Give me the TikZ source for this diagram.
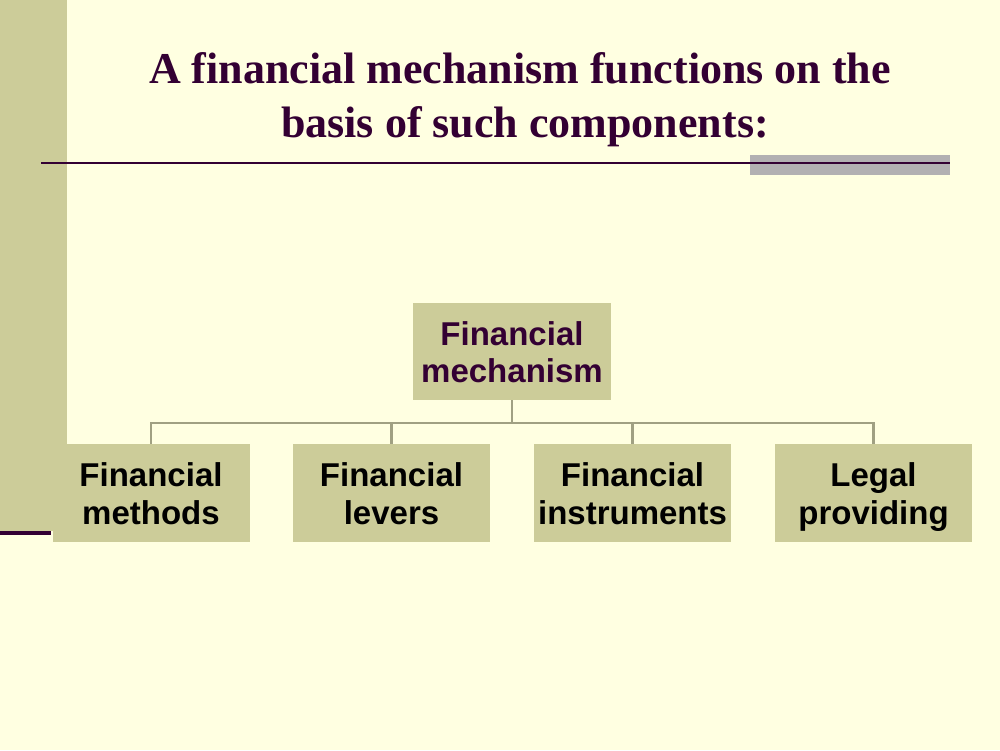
\documentclass[tikz,border=0pt]{standalone}
\usepackage{fontspec}
\newfontfamily\titlefont{Liberation Serif}
\newfontfamily\boxfont{Liberation Sans}
\definecolor{bgc}{HTML}{FFFFE1}
\definecolor{khaki}{HTML}{CCCC99}
\definecolor{plum}{HTML}{330033}
\definecolor{barg}{HTML}{B2B0B2}
\definecolor{conn}{HTML}{A0A082}
\newcommand{\twoln}[2]{\rule{0pt}{24pt}#1\\\raisebox{0pt}[\height][0pt]{#2}}
\tikzset{
  compbox/.style={fill=khaki, minimum width=197pt, minimum height=98pt, inner sep=0pt,
    align=center, font=\boxfont\bfseries\fontsize{33}{38}\selectfont, text=black},
  topbox/.style={compbox, minimum width=198pt, minimum height=97pt, text=plum,
    font=\boxfont\bfseries\fontsize{33}{37}\selectfont},
  titletext/.style={font=\titlefont\bfseries\fontsize{44}{54}\selectfont, text=plum, inner sep=0pt, anchor=base},
  link/.style={draw=conn, line width=2.4pt}
}
\begin{document}
\begin{tikzpicture}[x=1pt,y=-1pt]
\useasboundingbox (0,0) rectangle (1000,750);
\fill[bgc] (0,0) rectangle (1000,750);
% left band
\fill[khaki] (0,0) rectangle (67,531);
\fill[plum] (0,531) rectangle (51,535);
% title
\node[titletext] (title1) at (520,83) {A financial mechanism functions on the};
\node[titletext] (title2) at (525,137) {basis of such components:};
% rule under title
\fill[barg] (750,155) rectangle (950,175);
\draw[plum, line width=2.4pt] (41,163) -- (950,163);
% boxes
\node[topbox] (mech) at (512,351.5) {\twoln{Financial}{mechanism}};
\node[compbox] (meth) at (151,493) {\twoln{Financial}{methods}};
\node[compbox] (lev) at (391.5,493) {\twoln{Financial}{levers}};
\node[compbox] (inst) at (632.5,493) {\twoln{Financial}{instruments}};
\node[compbox] (legal) at (873.5,493) {\twoln{Legal}{providing}};
% connectors
\coordinate (bus) at (512,423);
\draw[link] (mech.south) -- (mech.south |- bus);
\foreach \c in {meth,lev,inst,legal}{
  \draw[link] (mech.south |- bus) -| (\c.north);
}
\end{tikzpicture}
\end{document}
